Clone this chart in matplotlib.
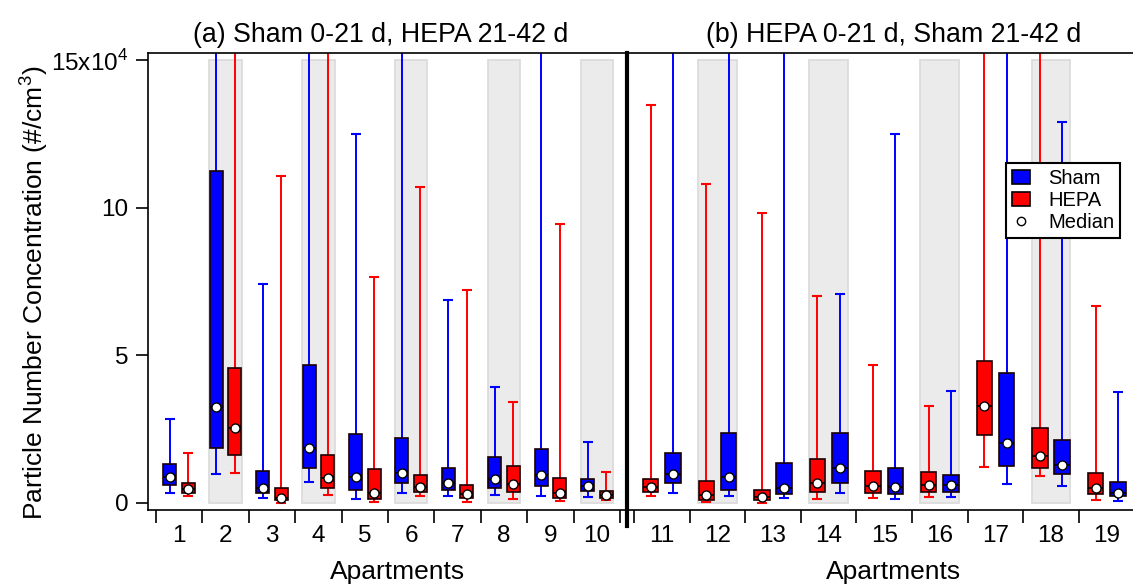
"""
Particle number concentration per apartment, Sham vs HEPA filtration.
Two crossover panels: (a) Sham first, (b) HEPA first.
Values are in units of 1e4 #/cm^3 read off box plots.
"""

import numpy as np
import matplotlib
matplotlib.use('Agg')
import matplotlib.pyplot as plt
from matplotlib.patches import Patch
from matplotlib.lines import Line2D

plt.rcParams['font.family'] = ['Liberation Sans', 'DejaVu Sans']
plt.rcParams['mathtext.fontset'] = 'custom'
plt.rcParams['mathtext.rm'] = 'Liberation Sans'

# ---- data (x1e4 #/cm^3); 16.0 = whisker runs off the top of the axis ----
apartments = np.arange(1, 20)
shaded = [2, 4, 6, 8, 10, 12, 14, 16, 18]

sham_lo  = [0.34, 0.97, 0.16, 0.71, 0.14, 0.32, 0.23, 0.25, 0.24, 0.18,
            0.34, 0.23, 0.15, 0.34, 0.11, 0.20, 0.63, 0.58, 0.06]
sham_q1  = [0.59, 1.86, 0.32, 1.19, 0.43, 0.67, 0.43, 0.49, 0.58, 0.38,
            0.67, 0.42, 0.29, 0.67, 0.30, 0.35, 1.23, 0.96, 0.21]
sham_med = [0.86, 3.23, 0.49, 1.84, 0.87, 0.99, 0.65, 0.80, 0.95, 0.58,
            0.98, 0.87, 0.50, 1.19, 0.54, 0.59, 2.02, 1.26, 0.34]
sham_q3  = [1.32, 11.24, 1.08, 4.68, 2.33, 2.19, 1.19, 1.55, 1.82, 0.80,
            1.68, 2.35, 1.34, 2.35, 1.17, 0.95, 4.41, 2.11, 0.71]
sham_hi  = [2.83, 16.0, 7.41, 16.0, 12.51, 16.0, 6.87, 3.93, 16.0, 2.07,
            16.0, 16.0, 16.0, 7.09, 12.50, 3.79, 16.0, 12.90, 3.76]

hepa_lo  = [0.23, 0.99, 0.00, 0.27, 0.01, 0.21, 0.03, 0.14, 0.04, 0.08,
            0.21, 0.02, 0.00, 0.12, 0.16, 0.18, 1.22, 0.89, 0.09]
hepa_q1  = [0.34, 1.60, 0.08, 0.51, 0.14, 0.36, 0.16, 0.36, 0.17, 0.16,
            0.35, 0.10, 0.08, 0.37, 0.33, 0.35, 2.31, 1.17, 0.28]
hepa_med = [0.46, 2.53, 0.16, 0.84, 0.34, 0.54, 0.28, 0.62, 0.34, 0.26,
            0.54, 0.25, 0.18, 0.68, 0.56, 0.60, 3.28, 1.57, 0.49]
hepa_q3  = [0.68, 4.58, 0.49, 1.61, 1.14, 0.95, 0.59, 1.24, 0.82, 0.41,
            0.80, 0.74, 0.44, 1.49, 1.06, 1.03, 4.82, 2.52, 0.99]
hepa_hi  = [1.67, 16.0, 11.08, 16.0, 7.64, 10.69, 7.20, 3.42, 9.44, 1.05,
            13.50, 10.79, 9.84, 7.02, 4.68, 3.28, 16.0, 16.0, 6.66]

yticks = [0, 5, 10, 15]
yticklabels = ['0', '5', '10', r'15x10$^{4}$']

SHAM_C, HEPA_C = '#0000ff', '#ff0000'
BOX_W, OFF = 0.28, 0.2
FS = 17.5


def draw_box(ax, x, lo, q1, med, q3, hi, color):
    ax.vlines(x, lo, q1, color=color, lw=1.4, zorder=2)
    ax.vlines(x, q3, hi, color=color, lw=1.4, zorder=2)
    ax.plot([x, x], [lo, hi], ls='none', marker='_', ms=7, mew=1.5,
            color=color, zorder=2)
    ax.bar(x, q3 - q1, bottom=q1, width=BOX_W, color=color,
           edgecolor='#1a0000', lw=1.2, zorder=3)
    ax.hlines(med, x - BOX_W / 2, x + BOX_W / 2, color='k', lw=1.2, zorder=4)
    ax.plot(x, med, 'o', mfc='white', mec='k', ms=6.5, mew=1.0, zorder=5)


def draw_panel(ax, idx, sham_first):
    for i in idx:
        a = apartments[i]
        if a in shaded:
            ax.bar(a, 15, bottom=0, width=0.7, color='#ebebeb',
                   edgecolor='#dcdcdc', lw=1.3, zorder=0)
        xs, xh = (a - OFF, a + OFF) if sham_first else (a + OFF, a - OFF)
        draw_box(ax, xs, sham_lo[i], sham_q1[i], sham_med[i], sham_q3[i],
                 sham_hi[i], SHAM_C)
        draw_box(ax, xh, hepa_lo[i], hepa_q1[i], hepa_med[i], hepa_q3[i],
                 hepa_hi[i], HEPA_C)

    lo_b, hi_b = apartments[idx[0]] - 0.5, apartments[idx[-1]] + 0.5
    ax.set_xticks(np.arange(lo_b, hi_b + 0.1, 1.0))
    ax.set_xticklabels([])
    ax.set_xticks(apartments[idx], minor=True)
    ax.set_xticklabels([str(a) for a in apartments[idx]], minor=True,
                       fontsize=FS)
    ax.tick_params(axis='x', which='major', direction='out', length=9.5,
                   width=1.2)
    ax.tick_params(axis='x', which='minor', length=0, pad=11)
    ax.set_ylim(-0.25, 15.25)
    ax.set_xlabel('Apartments', fontsize=19)
    for s in ax.spines.values():
        s.set_linewidth(1.2)


W, H = 1133, 585
fig = plt.figure(figsize=(W / 100, H / 100), dpi=100)
bot, hgt = 1 - 510 / H, 457 / H
axL = fig.add_axes([148 / W, bot, 479 / W, hgt])
axR = fig.add_axes([627 / W, bot, 533 / W, hgt])

draw_panel(axL, list(range(0, 10)), sham_first=True)
draw_panel(axR, list(range(10, 19)), sham_first=False)

axL.set_xlim(0.328, 10.65)
axR.set_xlim(10.374, 19.96)

axL.spines['right'].set_visible(False)
axR.spines['left'].set_visible(False)
axR.spines['right'].set_visible(False)

axL.set_yticks(yticks)
axL.set_yticklabels(yticklabels, fontsize=FS)
axL.tick_params(axis='y', direction='out', length=9, width=1.2, pad=5)
axR.set_yticks([])

axL.set_ylabel(r'Particle Number Concentration (#/cm$^{3}$)', fontsize=19)
axL.yaxis.set_label_coords(-0.205, 0.476)
axL.xaxis.set_label_coords(0.52, -0.109)
axR.xaxis.set_label_coords(0.5, -0.109)

tA = axL.set_title('(a) Sham 0-21 d, HEPA 21-42 d', fontsize=19.3, pad=8)
tA.set_x(0.486)
axR.set_title('(b) HEPA 0-21 d, Sham 21-42 d', fontsize=19.3, pad=8)

# thick divider between the two panels
fig.add_artist(Line2D([626.5 / W, 626.5 / W], [1 - 53 / H, 1 - 526 / H],
                      transform=fig.transFigure, color='k', lw=3.0))

handles = [Patch(facecolor=SHAM_C, edgecolor='k', lw=1.2, label='Sham'),
           Patch(facecolor=HEPA_C, edgecolor='k', lw=1.2, label='HEPA'),
           Line2D([], [], ls='none', marker='o', mfc='white', mec='k',
                  ms=6, mew=1.0, label='Median')]
leg = axR.legend(handles=handles, loc='upper left',
                 bbox_to_anchor=((1006 - 627) / 533, (510 - 163) / 457),
                 borderaxespad=0, fontsize=14.5, frameon=True, fancybox=False,
                 framealpha=1, edgecolor='k', handlelength=0.9,
                 handleheight=0.65, handletextpad=0.9, labelspacing=0.15,
                 borderpad=0.3)
leg.get_frame().set_linewidth(1.5)
leg.set_zorder(10)

fig.savefig('out.png', dpi=100)
